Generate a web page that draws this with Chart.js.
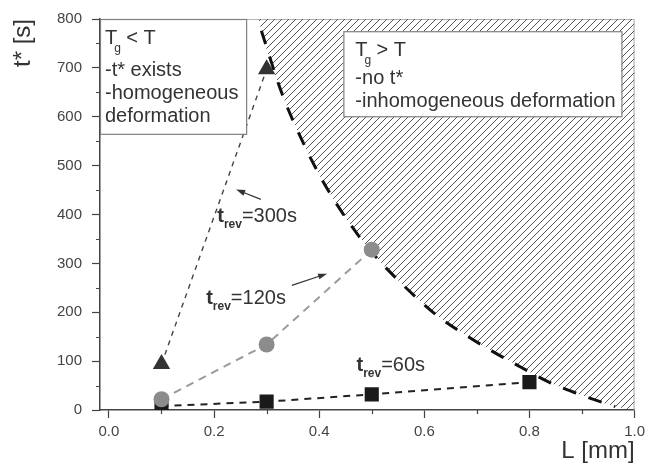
<!DOCTYPE html>
<html>
<head>
<meta charset="utf-8">
<script src="https://cdn.jsdelivr.net/npm/chart.js@4"></script>
<style>
  html, body { margin: 0; padding: 0; background: #fff; }
</style>
</head>
<body>
<canvas id="chart" width="650" height="470"></canvas>
<script>
// sample length L [mm] and measured t* [s] for each relaxation time
const lengths60 = [0.1, 0.3, 0.5, 0.8];
const tStar60 = [8, 17, 32, 57];
const lengths120 = [0.1, 0.3, 0.5];
const tStar120 = [22, 134, 328];
const lengths300 = [0.1, 0.3];
const tStar300 = [94, 697];

// Tg = T boundary
const boundaryL = [0.290, 0.329, 0.377, 0.405, 0.437, 0.474, 0.497, 0.519, 0.569, 0.622, 0.676, 0.728, 0.783, 0.837, 0.890, 0.943, 0.963];
const boundaryT = [776, 648, 530, 472, 415, 358, 327, 300, 246, 195, 155, 121, 88, 57, 34, 14, 7];
// hatched region closes on the top and on the right edge
const regionStart = [0.285, 800];
const regionEnd = [1.0, 0];

const xTicks = [0.0, 0.2, 0.4, 0.6, 0.8, 1.0];
const xMinor = [0.1, 0.3, 0.5, 0.7, 0.9];
const yTicks = [0, 100, 200, 300, 400, 500, 600, 700, 800];
const yMinor = [50, 150, 250, 350, 450, 550, 650, 750];

const FONT = "'Liberation Sans', Arial, sans-serif";

const pts = (xs, ys) => xs.map((v, i) => ({x: v, y: ys[i]}));

function hatch() {
  const c = document.createElement('canvas');
  c.width = 7; c.height = 7;
  const g = c.getContext('2d');
  g.strokeStyle = '#555';
  g.lineWidth = 1;
  g.beginPath();
  g.moveTo(0, 7); g.lineTo(7, 0);
  g.moveTo(-1, 1); g.lineTo(1, -1);
  g.moveTo(6, 8); g.lineTo(8, 6);
  g.stroke();
  return g.createPattern(c, 'repeat');
}

// text boxes, labels and arrows in data coordinates
const boxes = [
  {from: [-0.017, 800], to: [0.261, 565], pad: 5, lines: [
    {dy: 25, sub: ['T', 'g', '< T']}, {dy: 57, text: '-t* exists'},
    {dy: 80, text: '-homogeneous'}, {dy: 103, text: 'deformation'}]},
  {from: [0.446, 775], to: [0.975, 601], pad: 12, lines: [
    {dy: 25, sub: ['T', 'g', '> T']}, {dy: 53, text: '-no t*'},
    {dy: 76, text: '-inhomogeneous deformation'}]}
];
const revLabels = [
  {at: [0.206, 385], value: '=300s'},
  {at: [0.185, 217], value: '=120s'},
  {at: [0.471, 79], value: '=60s'}
];
const arrows = [
  {from: [0.289, 431], to: [0.242, 451]},
  {from: [0.348, 255], to: [0.415, 279]}
];

const frameAndNotes = {
  id: 'frameAndNotes',
  beforeDatasetsDraw(chart) {
    const {ctx, chartArea: a} = chart;
    ctx.save();
    ctx.strokeStyle = '#b4b4b4';
    ctx.lineWidth = 1.2;
    ctx.beginPath();
    ctx.moveTo(a.left, a.top + 0.5);
    ctx.lineTo(a.right - 0.5, a.top + 0.5);
    ctx.lineTo(a.right - 0.5, a.bottom);
    ctx.stroke();
    ctx.restore();
  },
  afterDatasetsDraw(chart) {
    const {ctx, scales: {x, y}} = chart;
    ctx.save();
    ctx.fillStyle = '#333';
    ctx.textBaseline = 'alphabetic';

    boxes.forEach(b => {
      const l = x.getPixelForValue(b.from[0]), t = y.getPixelForValue(b.from[1]);
      const r = x.getPixelForValue(b.to[0]), btm = y.getPixelForValue(b.to[1]);
      ctx.fillStyle = '#fff';
      ctx.fillRect(l, t, r - l, btm - t);
      ctx.strokeStyle = '#808080';
      ctx.lineWidth = 1.2;
      ctx.strokeRect(l + 0.5, t + 0.5, r - l, btm - t);
      ctx.fillStyle = '#333';
      b.lines.forEach(ln => {
        const tx = l + b.pad, ty = t + ln.dy;
        ctx.font = '20px ' + FONT;
        if (ln.sub) {
          ctx.fillText(ln.sub[0], tx, ty);
          const w = ctx.measureText(ln.sub[0]).width;
          ctx.font = '12px ' + FONT;
          ctx.fillText(ln.sub[1], tx + w - 3, ty + 8);
          ctx.font = '20px ' + FONT;
          ctx.fillText(ln.sub[2], tx + w + 9, ty);
        } else {
          ctx.fillText(ln.text, tx, ty);
        }
      });
    });

    revLabels.forEach(lb => {
      let px = x.getPixelForValue(lb.at[0]);
      const py = y.getPixelForValue(lb.at[1]);
      ctx.font = 'bold 20px ' + FONT;
      ctx.fillText('t', px, py);
      px += ctx.measureText('t').width;
      ctx.font = 'bold 12px ' + FONT;
      ctx.fillText('rev', px, py + 6);
      px += ctx.measureText('rev').width;
      ctx.font = '20px ' + FONT;
      ctx.fillText(lb.value, px, py);
    });

    ctx.strokeStyle = '#333';
    ctx.lineWidth = 1.2;
    arrows.forEach(ar => {
      const x0 = x.getPixelForValue(ar.from[0]), y0 = y.getPixelForValue(ar.from[1]);
      const x1 = x.getPixelForValue(ar.to[0]), y1 = y.getPixelForValue(ar.to[1]);
      const ang = Math.atan2(y1 - y0, x1 - x0);
      ctx.beginPath();
      ctx.moveTo(x0, y0);
      ctx.lineTo(x1 - 6 * Math.cos(ang), y1 - 6 * Math.sin(ang));
      ctx.stroke();
      ctx.beginPath();
      ctx.moveTo(x1, y1);
      ctx.lineTo(x1 - 9 * Math.cos(ang) + 3 * Math.sin(ang), y1 - 9 * Math.sin(ang) - 3 * Math.cos(ang));
      ctx.lineTo(x1 - 9 * Math.cos(ang) - 3 * Math.sin(ang), y1 - 9 * Math.sin(ang) + 3 * Math.cos(ang));
      ctx.closePath();
      ctx.fill();
    });
    ctx.restore();
  },
  afterDraw(chart) {
    // short minor ticks between the labelled ones
    const {ctx, scales: {x, y}, chartArea: a} = chart;
    ctx.save();
    ctx.strokeStyle = '#444';
    ctx.lineWidth = 1.2;
    ctx.beginPath();
    xMinor.forEach(v => {
      const px = Math.round(x.getPixelForValue(v)) + 0.5;
      ctx.moveTo(px, a.bottom); ctx.lineTo(px, a.bottom + 4);
    });
    yMinor.forEach(v => {
      const py = Math.round(y.getPixelForValue(v)) + 0.5;
      ctx.moveTo(a.left, py); ctx.lineTo(a.left - 4, py);
    });
    ctx.stroke();
    ctx.restore();
  }
};

const ctx = document.getElementById('chart').getContext('2d');
new Chart(ctx, {
  type: 'line',
  data: {
    datasets: [
      {
        data: pts(lengths300, tStar300),
        borderColor: '#444', borderWidth: 1.4, borderDash: [5, 5],
        pointStyle: 'triangle', pointRadius: 10,
        pointBackgroundColor: '#333', pointBorderColor: '#333', pointBorderWidth: 0,
        order: 1
      },
      {
        data: pts(lengths120, tStar120),
        borderColor: '#9a9a9a', borderWidth: 2, borderDash: [8, 6],
        pointStyle: 'circle', pointRadius: 8,
        pointBackgroundColor: '#8c8c8c', pointBorderColor: '#8c8c8c', pointBorderWidth: 0,
        order: 2
      },
      {
        data: pts(lengths60, tStar60),
        borderColor: '#222', borderWidth: 2, borderDash: [7, 6],
        pointStyle: 'rect', pointRadius: 10,
        pointBackgroundColor: '#1a1a1a', pointBorderColor: '#1a1a1a', pointBorderWidth: 0,
        order: 3
      },
      {
        data: pts(boundaryL, boundaryT),
        borderColor: '#111', borderWidth: 3, borderDash: [14, 13],
        cubicInterpolationMode: 'monotone',
        pointRadius: 0,
        order: 5
      },
      {
        data: [{x: regionStart[0], y: regionStart[1]}, ...pts(boundaryL, boundaryT), {x: regionEnd[0], y: regionEnd[1]}],
        borderWidth: 0, borderColor: 'rgba(0,0,0,0)',
        cubicInterpolationMode: 'monotone',
        pointRadius: 0,
        fill: 'end',
        backgroundColor: hatch(),
        order: 10
      }
    ]
  },
  options: {
    responsive: false,
    animation: false,
    layout: { padding: { top: 15, right: 12, left: 0, bottom: 0 } },
    plugins: {
      legend: { display: false },
      tooltip: { enabled: false }
    },
    scales: {
      x: {
        type: 'linear',
        min: -0.017, max: 1.0,
        afterFit: s => { s.height = 60; },
        afterBuildTicks: s => { s.ticks = xTicks.map(v => ({value: v})); },
        border: { color: '#444', width: 1.5 },
        grid: { drawOnChartArea: false, tickLength: 8, color: '#444', tickWidth: 1.2 },
        ticks: {
          color: '#444', padding: 5,
          font: { family: FONT, size: 15 },
          callback: v => v.toFixed(1)
        },
        title: {
          display: true, text: 'L [mm]', align: 'end', color: '#333',
          font: { family: FONT, size: 24 },
          padding: { bottom: 4 }
        }
      },
      y: {
        min: 0, max: 800,
        afterFit: s => { s.width = 100; },
        afterBuildTicks: s => { s.ticks = yTicks.map(v => ({value: v})); },
        border: { color: '#444', width: 1.5 },
        grid: { drawOnChartArea: false, tickLength: 8, color: '#444', tickWidth: 1.2 },
        ticks: {
          color: '#444', padding: 10,
          font: { family: FONT, size: 15 }
        },
        title: {
          display: true, text: 't* [s]', align: 'end', color: '#333',
          font: { family: FONT, size: 24 },
          padding: { top: 9 }
        }
      }
    }
  },
  plugins: [frameAndNotes]
});
</script>
</body>
</html>
